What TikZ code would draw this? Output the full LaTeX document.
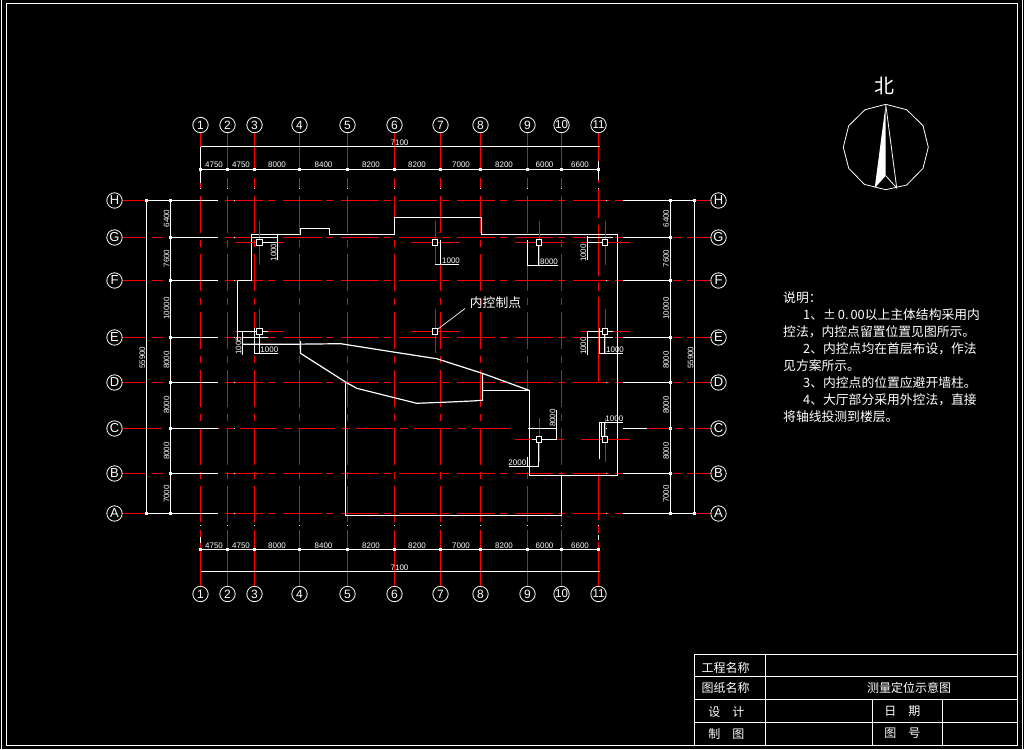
\documentclass[tikz,border=0pt]{standalone}
\usepackage{fontspec}
\setmainfont{Liberation Sans}
\newfontfamily\cjk{Noto Sans CJK SC}
\definecolor{axisred}{RGB}{255, 0, 0}
\usetikzlibrary{positioning, calc}
\tikzset{
  axisline/.style={draw=axisred, line width=1pt},
  vdash/.style={dash pattern=on 36.7pt off 6.6pt on 7.7pt off 7pt},
  hdash/.style={dash pattern=on 38.3pt off 5pt on 7pt off 7.7pt},
  dimline/.style={draw=white, line width=1pt},
  wall/.style={draw=white, line width=1.2pt},
  bubble/.style={circle, draw=white, fill=black, line width=0.8pt, minimum size=15.4pt, inner sep=0pt, text=white, font=\fontsize{12}{12}\selectfont},
  bubbletwo/.style={bubble, font=\fontsize{11.5}{12}\selectfont},
  bubbleletter/.style={bubble, font=\fontsize{13}{13}\selectfont},
  dimtext/.style={text=white, inner sep=0pt, font=\fontsize{8}{8}\selectfont},
  cjktext/.style={text=white, inner sep=0pt, font=\cjk\fontsize{12.8}{13}\selectfont},
  ctrlpoint/.style={rectangle, draw=white, fill=black, line width=0.9pt, minimum size=5.6pt, inner sep=0pt}
}
\begin{document}
\begin{tikzpicture}[x=1pt, y=-1pt]
  \useasboundingbox (0,0) rectangle (1024,749);
  \fill[black] (0,0) rectangle (1024,749);

  % Sheet frame
  \draw[dimline] (6.5,3.5) rectangle (1017.5,745.5);
  \draw[dimline] (1.5,0) -- (1.5,749);
  \draw[dimline] (1022.5,0) -- (1022.5,749);

  % Column axes
  \foreach \n/\x/\w in {1/200.5/1.8, 2/227.5/1, 3/254.5/1.8, 4/299.5/1, 5/347.5/1, 6/394.5/1, 7/440.5/1.6, 8/480.5/1.6, 9/527.5/1, 10/561.5/1} {
    \ifnum\n<10
      \node[bubble] (t\n) at (\x,125) {\n};
      \node[bubble] (d\n) at (\x,594) {\n};
    \else
      \node[bubbletwo] (t\n) at (\x,125) {\n};
      \node[bubbletwo] (d\n) at (\x,594) {\n};
    \fi
    \draw[axisline, line width=\w pt] (t\n) -- (\x,170);
    \draw[axisline, line width=\w pt] (\x,178) -- (\x,189.4);
    \draw[axisline, vdash, line width=\w pt] (\x,196.4) -- (\x,522);
    \draw[axisline, line width=\w pt] (\x,529.5) -- (d\n);
  }
  \fill[black] (524.5,390) rectangle (530.5,468);

  % Column 11 is broken up
  \node[bubbletwo] (t11) at (598.5,125) {11};
  \node[bubbletwo] (d11) at (598.5,594) {11};
  \draw[axisline] (t11) -- (598.5,183);
  \draw[axisline] (598.5,541.5) -- (d11);
  \foreach \ya/\yb in {188/217.7, 225/276, 281.7/291, 297/382, 473/520, 525/533} {
    \draw[axisline] (598.5,\ya) -- (598.5,\yb);
  }

  % Row axes
  \foreach \lab/\y/\w in {H/200.5/1.6, G/237.5/1, F/280.5/1.6, E/337.5/1, D/382.5/1.6, B/473.5/1, A/513.5/1.6} {
    \node[bubbleletter] (l\lab) at (114.5,\y) {\lab};
    \node[bubbleletter] (r\lab) at (718.5,\y) {\lab};
    \draw[axisline, line width=\w pt] (l\lab) -- (145,\y);
    \draw[axisline, line width=\w pt] (151.7,\y) -- (163,\y);
    \draw[axisline, hdash, line width=\w pt] (224.5,\y) -- (608.5,\y);
    \draw[axisline, line width=\w pt] (615,\y) -- (623,\y);
    \draw[axisline, line width=\w pt] (672.7,\y) -- (680.7,\y);
    \draw[axisline, line width=\w pt] (687,\y) -- (r\lab);
    \draw[dimline] (170.5,\y) -- (218,\y);
    \draw[dimline] (623,\y) -- (670.5,\y);
  }
  % Row C has its own phase
  \node[bubbleletter] (lC) at (114.5,428.5) {C};
  \node[bubbleletter] (rC) at (718.5,428.5) {C};
  \draw[axisline, line width=1.6pt] (lC) -- (161.7,428.5);
  \draw[axisline, line width=1.6pt] (218,428.5) -- (220,428.5);
  \draw[axisline, line width=1.6pt] (226,428.5) -- (234.7,428.5);
  \draw[axisline, line width=1.6pt, dash pattern=on 36.7pt off 7.3pt on 7.7pt off 6.3pt] (240,428.5) -- (510.7,428.5);
  \draw[axisline, line width=1.6pt] (646.7,428.5) -- (669.3,428.5);
  \draw[axisline, line width=1.6pt] (675,428.5) -- (683,428.5);
  \draw[axisline, line width=1.6pt] (689,428.5) -- (rC);
  \draw[dimline] (170.5,428.5) -- (218,428.5);
  \draw[dimline] (623,428.5) -- (646.7,428.5);

  % Building outline
  \draw[wall] (300.5,341) -- (300.5,353.3) -- (346,382.3) -- (356.7,388.3) -- (394.3,397.7) -- (416.7,403.3) -- (450,402) -- (471.7,401) -- (482.5,400.3) -- (482.5,373.3);
  \draw[wall] (237.5,340) -- (237.5,280.5) -- (251.5,280.5) -- (251.5,234.5) -- (300.5,234.5) -- (300.5,228.5) -- (329.5,228.5) -- (329.5,234.5) -- (394.5,234.5) -- (394.5,217.5) -- (481.5,217.5) -- (481.5,234.5) -- (617.5,234.5) -- (617.5,475.5) -- (529.5,475.5) -- (529.5,390.5) -- (482.5,390.5);
  \draw[wall] (242.5,344.3) -- (286.7,344.3) -- (340.7,343.7) -- (393.3,352) -- (436.7,358.7) -- (482.3,373.3) -- (529.5,390.5);
  \draw[wall] (345.5,382.3) -- (345.5,515.5) -- (561.5,515.5) -- (561.5,475.5);

  % Overall dimensions, left and right
  \draw[dimline] (146.5,200.5) -- (146.5,513.5);
  \draw[dimline] (170.5,200.5) -- (170.5,513.5);
  \draw[dimline] (670.5,200.5) -- (670.5,513.5);
  \draw[dimline] (694.5,200.5) -- (694.5,513.5);
  \foreach \y in {200.5, 513.5} {
    \draw[dimline] (146.5,\y) -- (218,\y);
    \draw[dimline] (623,\y) -- (694.5,\y);
    \fill[white] (145.2,\y-1.3) rectangle ++(2.6,2.6);
    \fill[white] (693.2,\y-1.3) rectangle ++(2.6,2.6);
  }
  \foreach \y in {200.5, 237.5, 280.5, 337.5, 382.5, 428.5, 473.5, 513.5} {
    \fill[white] (169.2,\y-1.3) rectangle ++(2.6,2.6);
    \fill[white] (669.2,\y-1.3) rectangle ++(2.6,2.6);
    \fill[white] (234,\y-0.5) rectangle ++(1.4,1);
    \fill[white] (606,\y-0.5) rectangle ++(1.4,1);
  }
  \foreach \y/\t in {218.5/6400, 258.5/7600, 308.5/10000, 360/8000, 405/8000, 451/8000, 494/7000} {
    \node[dimtext, rotate=90] (ldim\t\y) at (166.5,\y) {\t};
    \node[dimtext, rotate=90] (rdim\t\y) at (666,\y) {\t};
  }
  \node[dimtext, rotate=90] (ltotal) at (142.3,357.7) {55900};
  \node[dimtext, rotate=90] (rtotal) at (690.5,357.7) {55900};

  % Overall dimensions, top and bottom
  \draw[dimline] (200.5,146.5) -- (599.5,146.5);
  \draw[dimline] (200.5,169.5) -- (599.5,169.5);
  \draw[dimline] (200.5,146.5) -- (200.5,183);
  \draw[dimline] (598.5,161) -- (598.5,180);
  \draw[dimline] (200.5,549.5) -- (599.5,549.5);
  \draw[dimline] (200.5,571.5) -- (599.5,571.5);
  \draw[dimline] (200.5,537) -- (200.5,543);
  \draw[dimline] (598.5,535) -- (598.5,540);
  \foreach \x in {200.5, 227.5, 254.5, 299.5, 347.5, 394.5, 440.5, 480.5, 527.5, 561.5, 598.5} {
    \fill[white] (\x-1.2,168.3) rectangle ++(2.4,2.4);
    \fill[white] (\x-1.2,548.3) rectangle ++(2.4,2.4);
    \fill[white] (\x-0.5,187.5) rectangle ++(1,1.5);
    \fill[white] (\x-0.5,524.5) rectangle ++(1,1.5);
  }
  \foreach \x/\t [count=\i] in {214/4750, 241/4750, 277/8000, 323.5/8400, 371/8200, 417/8200, 461/7000, 504/8200, 544.5/6000, 580/6600} {
    \node[dimtext] (tdim\i) at (\x,165) {\t};
    \node[dimtext] (bdim\i) at (\x,545.5) {\t};
  }
  \node[dimtext] (ttotal) at (399.5,143) {7100};
  \node[dimtext] (btotal) at (399.5,568) {7100};

  % Control points with their red crosses
  \foreach \cx/\cy [count=\i] in {259.7/242.7, 435/242.7, 539/242.7, 605/242.7, 259.7/331.3, 435/331.3, 605/331.3, 539/439.7, 605/439.7} {
    \draw[axisline] (\cx-24.5,\cy) -- (\cx+24.5,\cy);
    \draw[axisline] (\cx,\cy-22) -- (\cx,\cy+22);
    \node[ctrlpoint] (p\i) at (\cx,\cy) {};
  }

  % Offsets at the upper control points
  \draw[dimline] (251.5,237.5) -- (277.5,237.5);
  \draw[dimline] (262.5,242.5) -- (277.5,242.5);
  \draw[dimline] (277.5,235) -- (277.5,260);
  \node[dimtext, rotate=90] (off1) at (273.5,252.5) {1000};
  \draw[dimline] (440.5,239.5) -- (440.5,265);
  \draw[dimline] (434.5,264.5) -- (459,264.5);
  \node[dimtext] (off2) at (451,261) {1000};
  \draw[dimline] (527.5,240) -- (527.5,265.5);
  \draw[dimline] (538.5,245.5) -- (538.5,265.5);
  \draw[dimline] (526.5,265.5) -- (557.5,265.5);
  \node[dimtext] (off3) at (549,261.5) {8000};
  \draw[dimline] (587,236) -- (587,259.5);
  \draw[dimline] (587,237.5) -- (612.5,237.5);
  \draw[dimline] (587,242.5) -- (602,242.5);
  \node[dimtext, rotate=90] (off4) at (583.3,253) {1000};

  % Offsets at the middle control points
  \draw[dimline] (242.5,330.5) -- (242.5,354.5);
  \draw[dimline] (236.5,331.5) -- (256.5,331.5);
  \draw[dimline] (263,331.5) -- (267.5,331.5);
  \draw[dimline] (242.5,337.5) -- (267.5,337.5);
  \draw[dimline] (259.5,334) -- (259.5,354);
  \draw[dimline] (254.5,353.5) -- (277.5,353.5);
  \draw[dimline] (254.5,328) -- (254.5,353.5);
  \node[dimtext] (off5) at (269.3,349.5) {1000};
  \node[dimtext, rotate=90] (off6) at (238.5,345.7) {1000};
  \draw[dimline] (587,330.5) -- (587,354.5);
  \draw[dimline] (587,331.5) -- (602,331.5);
  \draw[dimline] (608,331.5) -- (613,331.5);
  \draw[dimline] (587,337.5) -- (613,337.5);
  \draw[dimline] (599.5,328) -- (599.5,354);
  \draw[dimline] (604.5,334) -- (604.5,354);
  \draw[dimline] (598.5,353.5) -- (622.5,353.5);
  \node[dimtext] (off7) at (615,350) {1000};
  \node[dimtext, rotate=90] (off8) at (583.3,346) {1000};

  % Offsets at the lower control points
  \draw[dimline] (528,428.5) -- (556.5,428.5);
  \draw[dimline] (556.5,409.5) -- (556.5,440);
  \draw[dimline] (531.5,439.5) -- (536,439.5);
  \draw[dimline] (542,439.5) -- (556.5,439.5);
  \draw[dimline] (538.5,443) -- (538.5,466);
  \draw[dimline] (508.5,466) -- (538.5,466);
  \draw[dimline] (527.5,456.5) -- (527.5,466);
  \node[dimtext, rotate=90] (off9) at (552.7,418) {8000};
  \node[dimtext] (off10) at (517.3,462.5) {2000};
  \draw[dimline] (599.5,422) -- (599.5,459);
  \draw[dimline] (601.5,422) -- (601.5,437);
  \draw[dimline] (604.5,422) -- (604.5,437);
  \draw[dimline] (599.5,422.5) -- (622.5,422.5);
  \node[dimtext] (off11) at (614.3,418.5) {1000};

  % Control point callout
  \node[cjktext] (callout) at (495.5,303) {内控制点};
  \coordinate (calloutend) at (465,308.5);
  \draw[white, line width=0.7pt] (p6) -- (calloutend);

  % North arrow
  \node[cjktext, font=\cjk\fontsize{20}{20}\selectfont] (north) at (884.5,86) {北};
  \draw[white, line width=0.8pt] (885.7,104.3) -- (906.7,109.7) -- (923,125.7) -- (928.3,147.3) -- (923,168.3) -- (906.7,185) -- (885.7,189.7) -- (864.3,184.3) -- (848.7,168.3) -- (843.3,147.3) -- (848.7,125.7) -- (865,109.7) -- cycle;
  \fill[white] (885.7,104.3) -- (874.7,188) -- (885.7,175.7) -- cycle;
  \draw[white, line width=0.8pt] (885.7,104.3) -- (896.7,188) -- (885.7,175.7);

  % Notes
  \foreach \y/\x/\t [count=\i] in {297.5/783/说明：, 314.5/803/1、±\hspace{2pt}0.\hspace{2pt}00以上主体结构采用内, 332/783/控法，内控点留置位置见图所示。, 349/803/2、内控点均在首层布设，作法, 366/783/见方案所示。, 383/803/3、内控点的位置应避开墙柱。, 400/803/4、大厅部分采用外控法，直接, 417/783/将轴线投测到楼层。} {
    \node[cjktext, anchor=west] (note\i) at (\x,\y) {\t};
  }

  % Title block
  \draw[dimline] (694.5,654.5) rectangle (1017.5,745.5);
  \draw[dimline] (694.5,676.5) -- (1017.5,676.5);
  \draw[dimline] (694.5,699.5) -- (1017.5,699.5);
  \draw[dimline] (694.5,722.5) -- (1017.5,722.5);
  \draw[dimline] (765.5,654.5) -- (765.5,745.5);
  \draw[dimline] (872.5,699.5) -- (872.5,745.5);
  \draw[dimline] (942.5,699.5) -- (942.5,745.5);
  \node[cjktext, font=\cjk\fontsize{12}{13}\selectfont] (project) at (725.7,667.5) {工程名称};
  \node[cjktext, font=\cjk\fontsize{12}{13}\selectfont] (sheet) at (725.7,688) {图纸名称};
  \node[cjktext, font=\cjk\fontsize{12}{13}\selectfont] (sheetname) at (909,688) {测量定位示意图};
  \node[cjktext, font=\cjk\fontsize{12}{13}\selectfont] (design) at (726.3,711.5) {设\hspace{12pt}计};
  \node[cjktext, font=\cjk\fontsize{12}{13}\selectfont] (drawn) at (726.3,733.5) {制\hspace{12pt}图};
  \node[cjktext, font=\cjk\fontsize{12}{13}\selectfont] (date) at (902.3,711.5) {日\hspace{12pt}期};
  \node[cjktext, font=\cjk\fontsize{12}{13}\selectfont] (number) at (902.3,733.5) {图\hspace{12pt}号};
\end{tikzpicture}
\end{document}
